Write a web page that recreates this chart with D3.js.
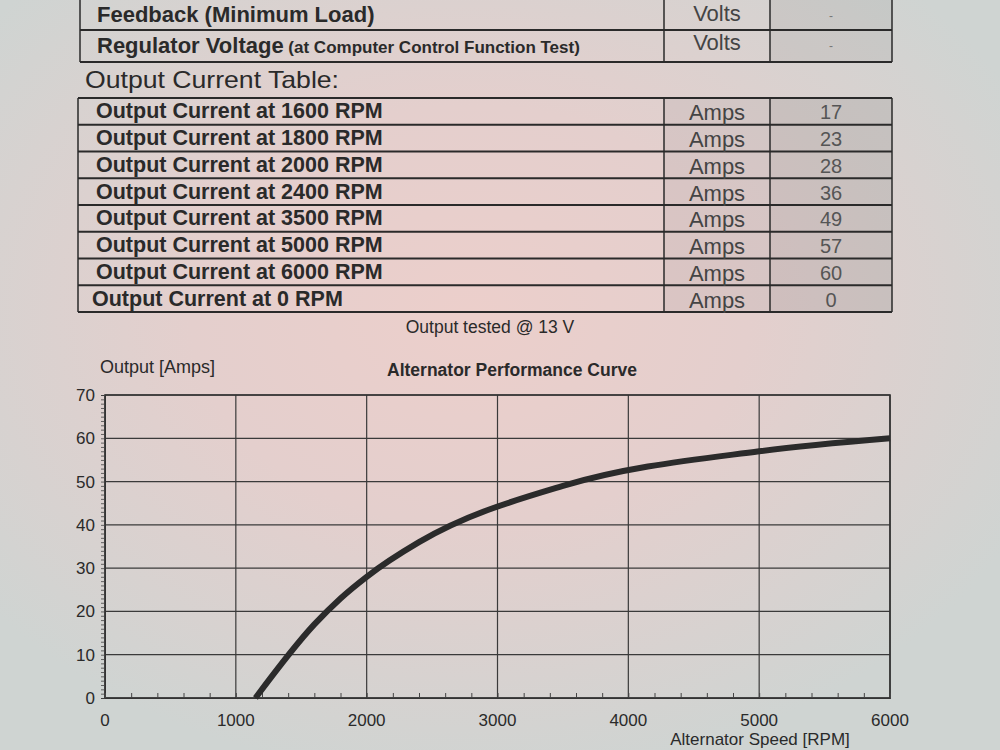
<!DOCTYPE html>
<html><head><meta charset="utf-8">
<script src="https://cdn.jsdelivr.net/npm/d3@7"></script>
<style>html,body{margin:0;padding:0;background:#d6d8d6;}svg{display:block;}</style>
</head><body>
<svg id="c" width="1000" height="750"></svg>
<script>
// ---- data ----
const topLabels = ["Feedback", "Regulator Voltage"];
const topSubLabels = [" (Minimum Load)", " (at Computer Control Function Test)"];
const topUnits = ["Volts", "Volts"];
const topValues = ["-", "-"];

const tableRpm = [1600, 1800, 2000, 2400, 3500, 5000, 6000, 0];
const tableAmps = [17, 23, 28, 36, 49, 57, 60, 0];
const tableUnit = "Amps";

const curveRpm = [1150, 1600, 1800, 2000, 2400, 3500, 5000, 6000];
const curveAmps = [0, 17, 23, 28, 36, 49, 57, 60];

const xTicks = [0, 1000, 2000, 3000, 4000, 5000, 6000];
const yTicks = [0, 10, 20, 30, 40, 50, 60, 70];

// ---- drawing ----
const svg = d3.select("#c");
const font = "'Liberation Sans', Arial, sans-serif";

// paper background
const defs = svg.append("defs");
const g1 = defs.append("radialGradient").attr("id","paper")
  .attr("cx", 0.47).attr("cy", 0.42).attr("r", 0.62);
g1.append("stop").attr("offset","0%").attr("stop-color","#eccfcb");
g1.append("stop").attr("offset","45%").attr("stop-color","#e4cfcd");
g1.append("stop").attr("offset","100%").attr("stop-color","#cfd4d2");
svg.append("rect").attr("width",1000).attr("height",750).attr("fill","url(#paper)");

const ink = "#2a2a2a";

// --- top partial table ---
const topRowY = d3.scaleBand().domain(d3.range(topLabels.length)).range([-2, 62]);
const colX = [80, 664, 770, 892];
const topG = svg.append("g");
topG.selectAll("rect.shade").data(topLabels).join("rect")
  .attr("x", colX[2]).attr("y", (d,i)=>topRowY(i)).attr("width", colX[3]-colX[2]).attr("height", topRowY.bandwidth())
  .attr("fill","rgba(120,120,120,0.12)");
topG.selectAll("line.h").data(d3.range(topLabels.length+1)).join("line")
  .attr("x1", colX[0]).attr("x2", colX[3])
  .attr("y1", i=>i<topLabels.length? topRowY(i): 62).attr("y2", i=>i<topLabels.length? topRowY(i): 62)
  .attr("stroke", ink).attr("stroke-width", 2);
colX.forEach(cx => topG.append("line").attr("x1",cx).attr("x2",cx).attr("y1",-2).attr("y2",62).attr("stroke",ink).attr("stroke-width",1.5));
const tt = topG.selectAll("text.lab").data(topLabels).join("text")
  .attr("x", 97).attr("y", (d,i)=>i===0?22:53)
  .attr("font-family", font).attr("font-weight","bold").attr("font-size", 22).attr("fill", ink);
tt.append("tspan").text(d=>d);
tt.append("tspan").text((d,i)=>topSubLabels[i]).attr("font-size",(d,i)=>i===0?22:17);
topG.selectAll("text.unit").data(topUnits).join("text")
  .attr("x", 717).attr("y",(d,i)=>i===0?21:50).attr("text-anchor","middle")
  .attr("font-family", font).attr("font-size", 22).attr("fill","#444").text(d=>d);
topG.selectAll("text.val").data(topValues).join("text")
  .attr("x", 831).attr("y",(d,i)=>i===0?20:50).attr("text-anchor","middle")
  .attr("font-family", font).attr("font-size", 12).attr("fill","#777").text(d=>d);

svg.append("text").attr("x", 85).attr("y", 88).attr("font-family", font).attr("font-size", 24)
  .attr("textLength", 254).attr("lengthAdjust","spacingAndGlyphs")
  .attr("fill", ink).text("Output Current Table:");

// --- output current table ---
const rowY = d3.scaleBand().domain(d3.range(tableRpm.length)).range([98, 312]);
const tg = svg.append("g");
tg.append("rect").attr("x", colX[1]).attr("y", 98).attr("width", colX[3]-colX[1]).attr("height", 214)
  .attr("fill","rgba(120,120,120,0.10)");
tg.append("rect").attr("x", colX[2]).attr("y", 98).attr("width", colX[3]-colX[2]).attr("height", 214)
  .attr("fill","rgba(120,120,120,0.08)");
tg.selectAll("line.h").data(d3.range(tableRpm.length+1)).join("line")
  .attr("x1", colX[0]-2).attr("x2", colX[3])
  .attr("y1", i=>i<tableRpm.length? rowY(i): 312).attr("y2", i=>i<tableRpm.length? rowY(i): 312)
  .attr("stroke", ink).attr("stroke-width", 2);
colX.forEach(cx => tg.append("line").attr("x1",cx-(cx===80?2:0)).attr("x2",cx-(cx===80?2:0)).attr("y1",98).attr("y2",312).attr("stroke",ink).attr("stroke-width",1.5));
tg.selectAll("text.lab").data(tableRpm).join("text")
  .attr("x", (d,i)=>i===tableRpm.length-1?92:96).attr("y",(d,i)=>rowY(i)+rowY.bandwidth()/2+7)
  .attr("font-family", font).attr("font-weight","bold").attr("font-size", 21.5).attr("fill", ink)
  .text(d=>`Output Current at ${d} RPM`);
tg.selectAll("text.unit").data(tableRpm).join("text")
  .attr("x", 717).attr("y",(d,i)=>rowY(i)+rowY.bandwidth()/2+9).attr("text-anchor","middle")
  .attr("font-family", font).attr("font-size", 22).attr("fill","#444").text(tableUnit);
tg.selectAll("text.val").data(tableAmps).join("text")
  .attr("x", 831).attr("y",(d,i)=>rowY(i)+rowY.bandwidth()/2+8).attr("text-anchor","middle")
  .attr("font-family", font).attr("font-size", 20).attr("fill","#555").text(d=>d);

svg.append("text").attr("x", 490).attr("y", 333).attr("text-anchor","middle")
  .attr("font-family", font).attr("font-size", 17.5).attr("fill", ink).text("Output tested @ 13 V");

// --- chart ---
const x = d3.scaleLinear().domain([0, 6000]).range([105, 890]);
const y = d3.scaleLinear().domain([0, 70]).range([698, 395]);

svg.append("text").attr("x", 100).attr("y", 373).attr("font-family", font).attr("font-size", 18)
  .attr("fill", ink).text("Output [Amps]");
svg.append("text").attr("x", 512).attr("y", 376).attr("text-anchor","middle").attr("font-family", font)
  .attr("font-weight","bold").attr("font-size", 17.5).attr("fill", ink).text("Alternator Performance Curve");

const chart = svg.append("g");
// grid
chart.append("g").selectAll("line").data(yTicks).join("line")
  .attr("x1", x(0)).attr("x2", x(6000)).attr("y1", d=>y(d)).attr("y2", d=>y(d))
  .attr("stroke","#3a3a3a").attr("stroke-width", 1.2);
chart.append("g").selectAll("line").data(xTicks).join("line")
  .attr("y1", y(0)).attr("y2", y(70)).attr("x1", d=>x(d)).attr("x2", d=>x(d))
  .attr("stroke","#3a3a3a").attr("stroke-width", 1.2);
// frame
chart.append("rect").attr("x", x(0)).attr("y", y(70)).attr("width", x(6000)-x(0)).attr("height", y(0)-y(70))
  .attr("fill","none").attr("stroke","#333").attr("stroke-width", 1.6);

// axes with minor ticks
const yAxis = d3.axisLeft(y).tickValues(d3.range(0, 71, 1)).tickSize(4).tickFormat("");
chart.append("g").attr("transform", `translate(${x(0)},0)`).call(yAxis)
  .call(g=>g.select(".domain").attr("stroke","#333"))
  .call(g=>g.selectAll(".tick line").attr("stroke","#444").attr("stroke-width",0.8));
const xAxis = d3.axisTop(x).tickValues(d3.range(0, 6001, 200)).tickSize(5).tickFormat("");
chart.append("g").attr("transform", `translate(0,${y(0)})`).call(xAxis)
  .call(g=>g.select(".domain").attr("stroke","#333"))
  .call(g=>g.selectAll(".tick line").attr("stroke","#444").attr("stroke-width",1));

chart.append("g").selectAll("text").data(yTicks).join("text")
  .attr("x", x(0)-10).attr("y", d=>y(d)+6).attr("text-anchor","end")
  .attr("font-family", font).attr("font-size", 17).attr("fill", ink).text(d=>d);
chart.append("g").selectAll("text").data(xTicks).join("text")
  .attr("x", d=>x(d)).attr("y", y(0)+28).attr("text-anchor","middle")
  .attr("font-family", font).attr("font-size", 17).attr("fill", ink).text(d=>d);

svg.append("text").attr("x", 760).attr("y", 745).attr("text-anchor","middle").attr("font-family", font)
  .attr("font-size", 17).attr("fill", ink).text("Alternator Speed [RPM]");

// curve
const line = d3.line().x((d,i)=>x(curveRpm[i])).y((d,i)=>y(curveAmps[i])).curve(d3.curveMonotoneX);
chart.append("path").datum(curveRpm).attr("d", line)
  .attr("fill","none").attr("stroke","#2b2b2b").attr("stroke-width", 6).attr("stroke-linecap","butt");
</script>
</body></html>
